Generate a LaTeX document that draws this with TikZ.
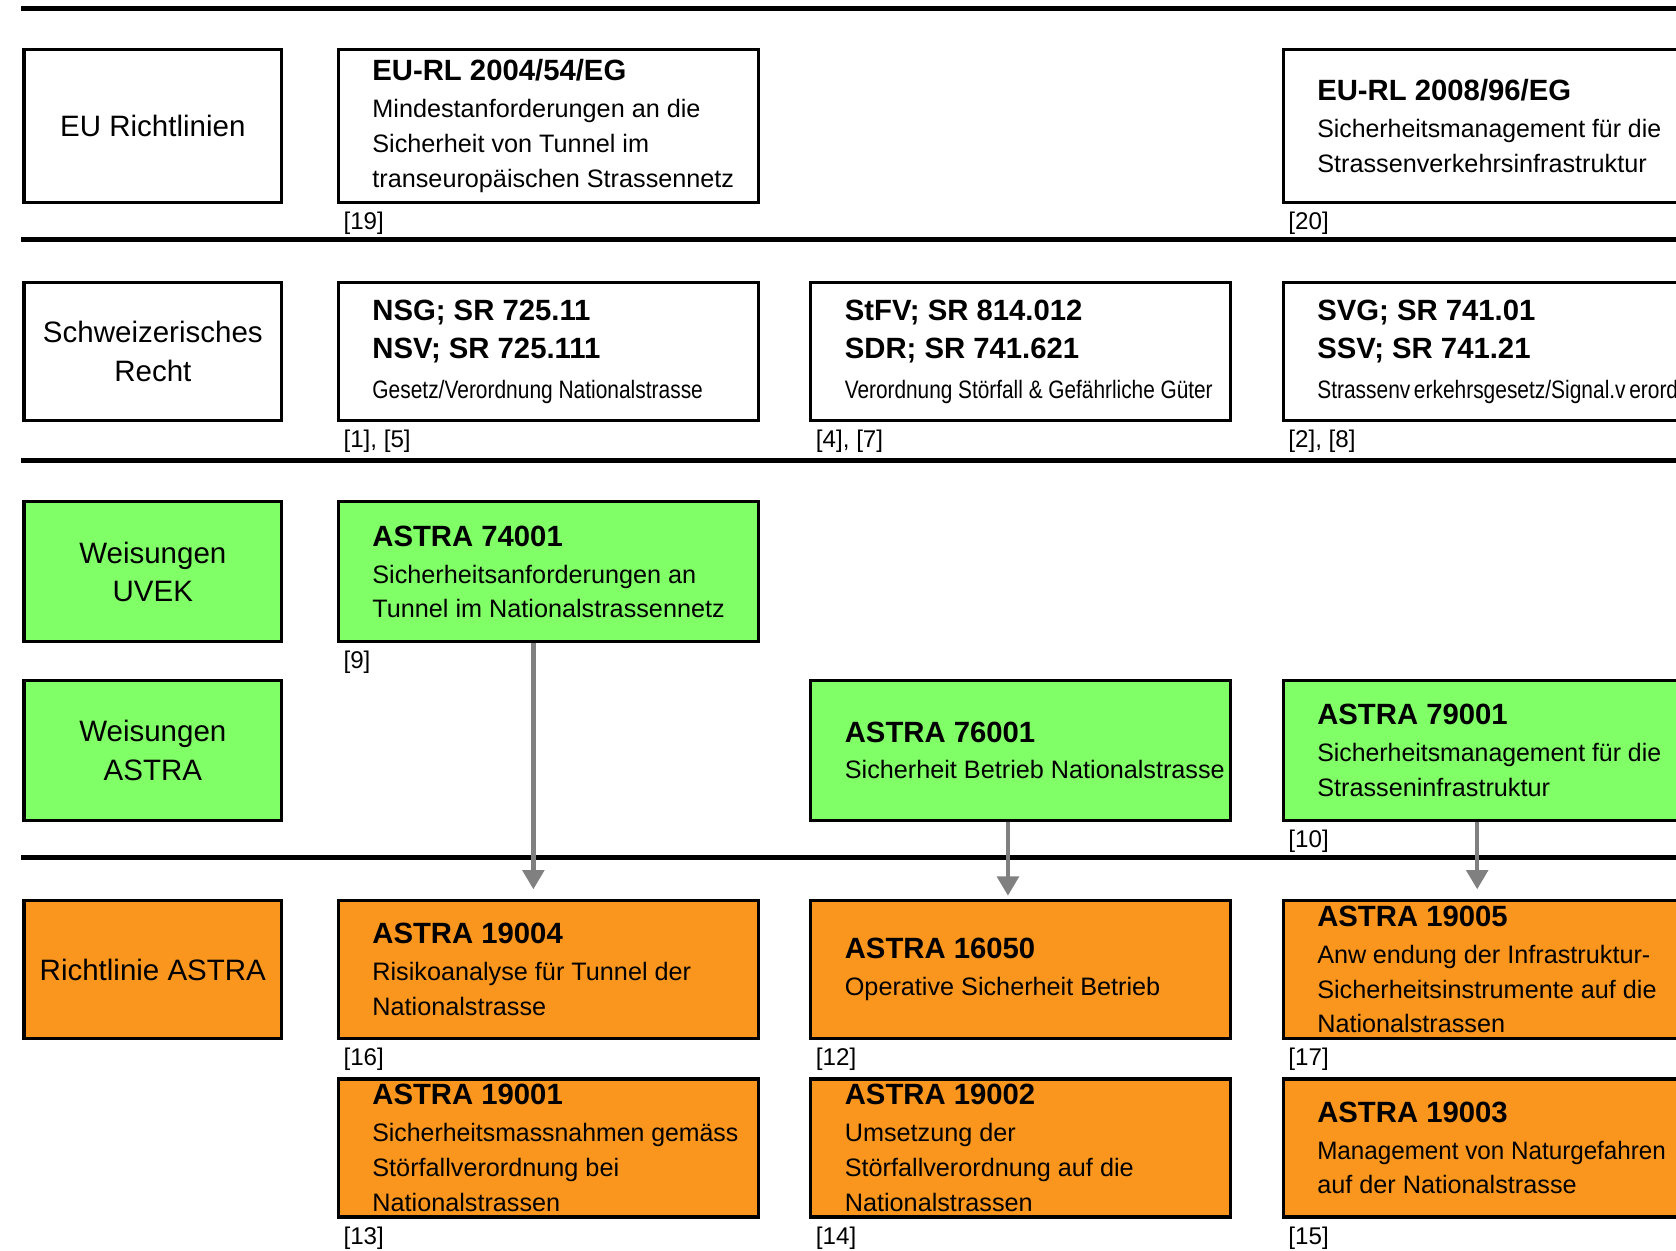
\documentclass[tikz,border=0pt]{standalone}
\usepackage{fontspec}
\usepackage{graphicx}
\setmainfont{Liberation Sans}
\usetikzlibrary{arrows.meta,calc}
\definecolor{boxgreen}{RGB}{128,255,102}
\definecolor{boxorange}{RGB}{250,150,30}
\definecolor{arrgray}{RGB}{128,128,128}
\newcommand\ttl[1]{{\fontsize{13.7}{17}\selectfont\bfseries #1}}
\newcommand\cond[2]{\scalebox{#1}[1]{#2}}
\newcommand\docbox[7]{%
  \node[docbox=#4,fill=#5] (#1) at (#2,#3) {};
  \node[doctext] (#1t) at ($(#1.west)+(33,0)$) {#6};
  \node[reflabel] (#1r) at ($(#1.south west)+(6,18)$) {#7};
}
\begin{document}
\begin{tikzpicture}[x=0.5pt,y=-0.5pt,
  sep/.style={line width=2.2pt},
  catbox/.style={draw,line width=1.5pt,anchor=north west,minimum width=120.5pt,
    minimum height=#1,inner sep=0pt,align=center,font=\fontsize{13.8}{18}\selectfont},
  docbox/.style={draw,line width=1.5pt,anchor=north west,minimum width=196.5pt,
    minimum height=#1,inner sep=0pt},
  doctext/.style={anchor=west,align=left,inner sep=0pt,font=\fontsize{11.8}{16.25}\selectfont},
  reflabel/.style={anchor=west,inner sep=0pt,font=\fontsize{11.3}{13}\selectfont},
  arr/.style={draw=arrgray,line width=2pt,-{Triangle[width=10pt,length=9pt]}}
]
\useasboundingbox (0,0) rectangle (1568,1170);
\clip (0,0) rectangle (1568,1170);
\fill[white] (0,0) rectangle (1568,1170);

% separator lines
\draw[sep] (20,8) -- (1600,8);
\draw[sep] (20,224) -- (1600,224);
\draw[sep] (20,431) -- (1600,431);
\draw[sep] (20,802) -- (1600,802);

% category boxes
\node[catbox=71.5pt] (euR) at (21,45) {EU Richtlinien};
\node[catbox=64.5pt] (chR) at (21,263) {Schweizerisches\\Recht};
\node[catbox=65.5pt,fill=boxgreen] (uvek) at (21,468) {Weisungen\\UVEK};
\node[catbox=65.5pt,fill=boxgreen] (astraW) at (21,635) {Weisungen\\ASTRA};
\node[catbox=64.5pt,fill=boxorange] (astraR) at (21,841) {Richtlinie ASTRA};

% row 1
\docbox{eua}{315}{45}{71.5pt}{white}{\ttl{EU-RL 2004/54/EG}\\[1pt]Mindestanforderungen an die\\Sicherheit von Tunnel im\\transeuropäischen Strassennetz}{[19]}
\docbox{eub}{1199}{45}{71.5pt}{white}{\ttl{EU-RL 2008/96/EG}\\[1pt]\cond{0.985}{Sicherheitsmanagement für die}\\Strassenverkehrsinfrastruktur}{[20]}

% row 2
\docbox{nsg}{315}{263}{64.5pt}{white}{\ttl{NSG; SR 725.11}\\[1.75pt]\ttl{NSV; SR 725.111}\\[2.25pt]\cond{0.83}{Gesetz/Verordnung Nationalstrasse}}{[1], [5]}
\docbox{stfv}{757}{263}{64.5pt}{white}{\ttl{StFV; SR 814.012}\\[1.75pt]\ttl{SDR; SR 741.621}\\[2.25pt]\cond{0.825}{Verordnung Störfall \& Gefährliche Güter}}{[4], [7]}
\docbox{svg}{1199}{263}{64.5pt}{white}{\ttl{SVG; SR 741.01}\\[1.75pt]\ttl{SSV; SR 741.21}\\[2.25pt]\cond{0.83}{Strassenv\hspace{2pt}erkehrsgesetz/Signal.v\hspace{2pt}erordnung}}{[2], [8]}

% row 3
\docbox{uvA}{315}{468}{65.5pt}{boxgreen}{\ttl{ASTRA 74001}\\[1pt]Sicherheitsanforderungen an\\Tunnel im Nationalstrassennetz}{[9]}

% row 4
\node[docbox=65.5pt,fill=boxgreen] (asB) at (757,635) {};
\node[doctext] (asBt) at ($(asB.west)+(33,0)$) {\ttl{ASTRA 76001}\\[1pt]Sicherheit Betrieb Nationalstrasse};
\docbox{asC}{1199}{635}{65.5pt}{boxgreen}{\ttl{ASTRA 79001}\\[1pt]\cond{0.985}{Sicherheitsmanagement für die}\\Strasseninfrastruktur}{[10]}

% row 5
\docbox{rA}{315}{841}{64.5pt}{boxorange}{\ttl{ASTRA 19004}\\[1pt]Risikoanalyse für Tunnel der\\Nationalstrasse}{[16]}
\docbox{rB}{757}{841}{64.5pt}{boxorange}{\ttl{ASTRA 16050}\\[1pt]Operative Sicherheit Betrieb}{[12]}
\docbox{rC}{1199}{841}{64.5pt}{boxorange}{\ttl{ASTRA 19005}\\[1pt]Anw\hspace{3pt}endung der Infrastruktur-\\Sicherheitsinstrumente auf die\\Nationalstrassen}{[17]}

% row 6
\docbox{sA}{315}{1008}{64.5pt}{boxorange}{\ttl{ASTRA 19001}\\[1pt]\cond{0.985}{Sicherheitsmassnahmen gemäss}\\Störfallverordnung bei\\Nationalstrassen}{[13]}
\docbox{sB}{757}{1008}{64.5pt}{boxorange}{\ttl{ASTRA 19002}\\[1pt]Umsetzung der\\Störfallverordnung auf die\\Nationalstrassen}{[14]}
\docbox{sC}{1199}{1008}{64.5pt}{boxorange}{\ttl{ASTRA 19003}\\[1pt]\cond{0.96}{Management von Naturgefahren}\\auf der Nationalstrasse}{[15]}

% arrows
\draw[arr] ($(uvA.south west)+(184,0)$) -- ($(rA.north west)+(184,-9)$);
\draw[arr] ($(asB.south west)+(186,0)$) -- ($(rB.north west)+(186,-3)$);
\draw[arr] ($(asC.south west)+(183,0)$) -- ($(rC.north west)+(183,-9)$);
\end{tikzpicture}
\end{document}
